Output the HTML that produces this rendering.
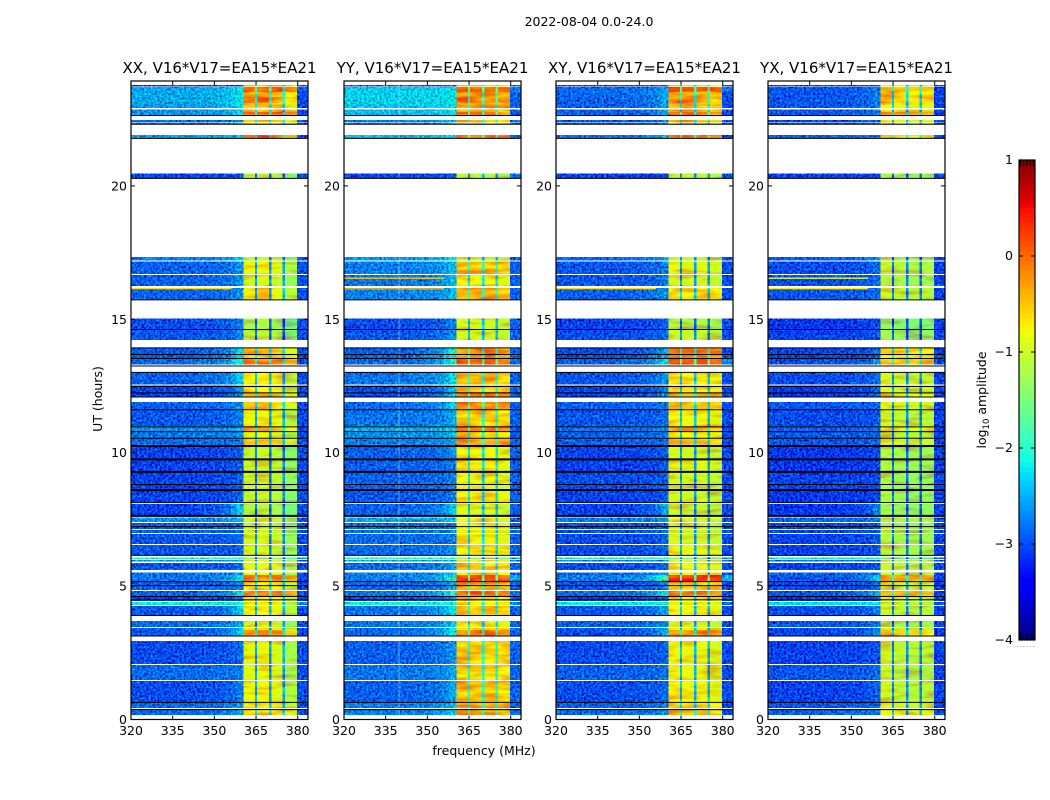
<!DOCTYPE html>
<html>
<head>
<meta charset="utf-8">
<title>2022-08-04 0.0-24.0</title>
<style>
html,body{margin:0;padding:0;background:#fff;width:1050px;height:800px;overflow:hidden}
svg{display:block}
text{font-family:"DejaVu Sans","Liberation Sans",sans-serif;fill:#000}
</style>
</head>
<body>
<svg id="chart" xmlns="http://www.w3.org/2000/svg" width="1050" height="800" viewBox="0 0 1050 800">
  <defs>
    <filter id="lowNoise" filterUnits="userSpaceOnUse" x="0" y="0" width="1050" height="800" color-interpolation-filters="sRGB">
      <feTurbulence type="fractalNoise" baseFrequency="0.45" numOctaves="2" seed="4" result="n"/>
      <feColorMatrix in="n" type="matrix" values="0 0 0 0 0.5  1 0 0 0 0  1 0 0 0 0  0 0 0 0 1" result="g"/>
      <feComposite in="SourceGraphic" in2="g" operator="arithmetic" k1="0" k2="1" k3="1.1" k4="-0.6" result="o"/>
      <feComposite in="o" in2="SourceAlpha" operator="in"/>
    </filter>
    <filter id="bandNoise" filterUnits="userSpaceOnUse" x="0" y="0" width="1050" height="800" color-interpolation-filters="sRGB">
      <feTurbulence type="fractalNoise" baseFrequency="0.04 0.2" numOctaves="2" seed="9" result="n"/>
      <feColorMatrix in="n" type="matrix" values="0 0 0 0 0.5  1 0 0 0 0  0 0 0 0 0.5  0 0 0 0 1" result="g"/>
      <feComposite in="SourceGraphic" in2="g" operator="arithmetic" k1="0" k2="1" k3="0.9" k4="-0.48" result="o"/>
      <feComposite in="o" in2="SourceAlpha" operator="in"/>
    </filter>
  </defs>
  <text x="589" y="26" text-anchor="middle" font-size="12.5">2022-08-04 0.0-24.0</text>
  <text x="484" y="755" text-anchor="middle" font-size="12.5">frequency (MHz)</text>
  <text transform="translate(102,399) rotate(-90)" text-anchor="middle" font-size="12.5">UT (hours)</text>
  <text transform="translate(986,400) rotate(-90)" text-anchor="middle" font-size="12.5">log<tspan font-size="8.5" dy="3">10</tspan><tspan dy="-3"> amplitude</tspan></text>
  <g id="panels"></g>
  <g id="colorbar"></g>
</svg>
<script>
const panelTitles = ["XX, V16*V17=EA15*EA21", "YY, V16*V17=EA15*EA21", "XY, V16*V17=EA15*EA21", "YX, V16*V17=EA15*EA21"];
const xTickLabels = [320, 335, 350, 365, 380];
const yTickLabels = [0, 5, 10, 15, 20];
const colorbarTicks = [1, 0, -1, -2, -3, -4];

const rowUpperUT = [23.78,23.71,23.52,23.33,23.11,22.86,22.77,22.47,22.37,21.91,
20.46,17.34,17.17,16.66,16.17,15.03,14.60,13.94,13.55,13.01,
12.52,12.28,11.90,11.60,11.00,10.78,10.55,10.23,9.73,9.28,
8.60,8.08,7.57,7.37,7.10,6.95,6.54,6.07,5.98,5.87,
5.51,5.42,5.15,4.82,4.63,4.40,4.25,3.69,3.43,3.35,
2.94,2.04,1.44,0.64,0.39];
const rowLowerUT = [23.73,23.52,23.33,23.11,22.92,22.77,22.66,22.40,22.32,21.80,
20.30,17.20,16.70,16.25,15.74,14.62,14.22,13.55,13.31,12.56,
12.28,12.07,11.60,11.00,10.78,10.55,10.27,9.76,9.28,8.60,
8.11,7.63,7.40,7.14,6.99,6.58,6.15,6.02,5.92,5.60,
5.42,5.15,4.85,4.63,4.44,4.29,3.88,3.47,3.35,3.13,
2.08,1.48,0.66,0.43,0.17];

const xxLow = [-3.0,-2.5,-2.5,-2.5,-2.55,-2.6,-2.6,-2.8,-2.7,-2.55,
-3.0,-2.7,-2.85,-2.85,-2.85,-2.95,-2.9,-2.9,-2.8,-2.85,
-3.0,-3.0,-2.85,-2.9,-2.6,-2.75,-2.8,-3.0,-3.0,-3.0,
-3.0,-3.0,-2.6,-2.9,-2.9,-2.9,-2.9,-1.9,-2.6,-2.9,
-2.75,-2.75,-2.85,-2.85,-3.0,-2.0,-2.9,-2.8,-2.85,-2.9,
-2.95,-2.8,-2.95,-2.8,-2.8];
const xxEdge = [-3.0,-2.2,-2.2,-2.2,-2.2,-2.3,-2.3,-2.6,-2.4,-2.4,
-2.9,-2.3,-2.6,-2.6,-2.6,-2.7,-2.7,-2.2,-2.1,-2.3,
-2.6,-2.6,-2.6,-2.7,-2.5,-2.6,-2.7,-2.85,-2.85,-2.85,
-2.8,-2.3,-2.5,-2.8,-2.8,-2.8,-2.8,-1.9,-2.6,-2.8,
-2.6,-2.2,-2.7,-2.2,-2.8,-2.0,-2.3,-2.5,-2.4,-2.3,
-2.8,-2.7,-2.7,-2.6,-2.5];
const xxBand = [-0.5,-0.05,-0.45,-0.2,-0.55,-0.55,-0.15,-0.5,-0.6,-0.2,
-1.15,-1.1,-0.85,-1.0,-0.8,-1.25,-1.15,-0.55,-0.25,-0.75,
-0.75,-0.5,-0.6,-0.85,-0.4,-0.9,-0.65,-1.1,-1.05,-1.05,
-1.1,-1.2,-1.0,-1.1,-1.1,-1.0,-1.0,-1.5,-0.9,-0.85,
-0.85,-0.2,-0.7,-0.2,-0.7,-0.9,-0.8,-1.0,-0.9,-0.3,
-0.9,-0.9,-0.85,-0.75,-0.6];

const yyLow = [-2.9,-2.3,-2.3,-2.3,-2.35,-2.4,-2.4,-2.7,-2.6,-2.4,
-3.0,-2.55,-2.7,-2.75,-2.7,-2.95,-2.9,-2.85,-2.8,-2.75,
-2.95,-2.95,-2.8,-2.75,-2.45,-2.6,-2.7,-2.85,-2.85,-2.85,
-2.9,-2.85,-2.5,-2.8,-2.8,-2.8,-2.8,-1.9,-2.5,-2.8,
-2.7,-2.7,-2.8,-2.75,-2.95,-2.0,-2.75,-2.75,-2.8,-2.8,
-2.85,-2.75,-2.85,-2.7,-2.7];
const yyEdge = [-2.9,-2.2,-2.2,-2.2,-2.2,-2.2,-2.2,-2.4,-2.3,-2.3,
-2.9,-2.2,-2.4,-2.4,-2.4,-2.7,-2.6,-2.0,-2.0,-2.2,
-2.4,-2.3,-2.3,-2.5,-2.3,-2.4,-2.5,-2.6,-2.7,-2.7,
-2.7,-2.3,-2.4,-2.7,-2.7,-2.7,-2.6,-1.9,-2.4,-2.5,
-2.4,-2.0,-2.5,-2.0,-2.6,-2.0,-2.2,-2.3,-2.2,-2.1,
-2.6,-2.5,-2.5,-2.4,-2.3];
const yyBand = [-0.5,0.0,-0.3,-0.15,-0.4,-0.4,-0.1,-0.45,-0.5,-0.1,
-1.1,-1.0,-0.45,-0.75,-0.4,-0.95,-0.95,-0.2,-0.05,-0.45,
-0.55,-0.1,-0.2,-0.55,-0.15,-0.6,-0.35,-0.75,-0.7,-0.8,
-0.7,-0.9,-0.75,-0.8,-0.85,-0.75,-0.7,-1.4,-0.7,-0.65,
-0.6,0.15,-0.4,-0.05,-0.5,-0.75,-0.55,-0.75,-0.6,-0.15,
-0.55,-0.6,-0.5,-0.4,-0.3];

const xyLow = [-3.0,-2.8,-2.8,-2.85,-2.85,-2.85,-2.85,-2.9,-2.85,-2.75,
-3.0,-2.8,-2.9,-2.9,-2.85,-3.0,-2.95,-2.95,-2.85,-2.9,
-3.0,-3.0,-2.85,-2.9,-2.75,-2.85,-2.85,-3.0,-3.0,-2.95,
-3.0,-3.0,-2.7,-2.95,-2.95,-2.95,-2.95,-1.9,-2.7,-2.95,
-2.8,-2.7,-2.9,-2.8,-3.0,-2.1,-2.9,-2.85,-2.9,-2.95,
-2.95,-2.85,-2.95,-2.85,-2.8];
const xyEdge = [-3.0,-2.5,-2.5,-2.5,-2.5,-2.5,-2.5,-2.7,-2.6,-2.5,
-3.0,-2.5,-2.7,-2.7,-2.6,-2.85,-2.8,-2.5,-2.2,-2.6,
-2.7,-2.6,-2.7,-2.8,-2.6,-2.7,-2.8,-2.85,-2.9,-2.85,
-2.9,-2.5,-2.6,-2.85,-2.85,-2.85,-2.85,-1.9,-2.6,-2.8,
-2.6,-1.8,-2.7,-2.2,-2.8,-2.1,-2.5,-2.6,-2.5,-2.4,
-2.85,-2.75,-2.8,-2.7,-2.6];
const xyBand = [-0.6,0.05,-0.35,-0.3,-0.5,-0.5,-0.1,-0.5,-0.7,-0.1,
-1.05,-1.05,-0.85,-0.95,-0.65,-1.15,-1.0,-0.15,0.1,-0.7,
-0.7,-0.35,-0.55,-0.75,-0.4,-0.75,-0.55,-0.95,-0.85,-0.95,
-0.95,-1.0,-0.85,-1.0,-1.05,-0.95,-0.8,-1.5,-0.9,-0.75,
-0.75,0.25,-0.6,-0.1,-0.7,-0.85,-0.75,-0.95,-0.85,-0.3,
-0.8,-0.8,-0.75,-0.6,-0.45];

const yxLow = [-3.0,-2.9,-2.9,-2.9,-2.9,-2.9,-2.9,-2.95,-2.9,-2.85,
-3.0,-2.85,-2.95,-2.95,-2.9,-3.05,-3.0,-3.0,-2.95,-2.95,
-3.05,-3.05,-2.9,-2.95,-2.85,-2.9,-2.9,-3.05,-3.05,-3.0,
-3.05,-3.05,-2.8,-3.0,-3.0,-3.0,-3.0,-2.1,-2.8,-3.0,
-2.85,-2.9,-2.95,-2.9,-3.05,-2.2,-2.95,-2.9,-2.95,-3.0,
-3.0,-2.9,-3.0,-2.9,-2.85];
const yxEdge = [-3.0,-2.7,-2.7,-2.7,-2.7,-2.7,-2.7,-2.8,-2.7,-2.7,
-3.0,-2.6,-2.8,-2.8,-2.8,-2.95,-2.9,-2.8,-2.6,-2.8,
-2.9,-2.8,-2.8,-2.9,-2.75,-2.8,-2.85,-2.95,-2.95,-2.95,
-3.0,-2.7,-2.7,-2.9,-2.9,-2.9,-2.9,-2.1,-2.7,-2.9,
-2.7,-2.3,-2.8,-2.5,-2.9,-2.2,-2.7,-2.7,-2.7,-2.6,
-2.9,-2.8,-2.85,-2.8,-2.7];
const yxBand = [-0.8,-0.4,-0.6,-0.6,-0.75,-0.75,-0.4,-0.8,-0.85,-0.4,
-1.2,-1.2,-1.05,-1.15,-1.0,-1.35,-1.25,-0.6,-0.45,-0.95,
-0.95,-0.7,-0.85,-1.0,-0.7,-1.05,-0.85,-1.15,-1.15,-1.2,
-1.2,-1.25,-1.1,-1.2,-1.2,-1.15,-1.1,-1.6,-1.05,-1.0,
-1.0,-0.25,-0.9,-0.4,-0.95,-1.05,-1.0,-1.15,-1.05,-0.55,
-1.0,-1.05,-1.0,-0.9,-0.8];

const lowChannelEdgesMHz = [320,328,336,344,350,353,356,358,360.4];
const lowChannelMix = [0,0,0,0.1,0.2,0.35,0.6,1];
const bandChannelEdgesMHz = [360.4,364.6,365.4,369.7,370.5,374.6,375.4,379.8];
const highChannelEdgesMHz = [379.8,383.7];
const xxSubbandOffsets = [0.05,0.1,0,-0.3];
const yySubbandOffsets = [0.05,0,0,-0.1];
const xySubbandOffsets = [0.05,0,0,-0.1];
const yxSubbandOffsets = [0.05,-0.05,-0.1,-0.1];
const subbandGapDrops = [-1.7,-1.5,-1.7,-1.7];
const highBandLevels = [-2.95,-2.85,-2.95,-3.0];

const thinFlagHours = [22.64,22.31,21.78,20.28,15.73,14.62,13.93,13.68,13.53,13.25,13.01,12.48,12.24,12.09,11.61,10.97,10.79,10.54,8.81,8.13,7.23,6.15,5.17,5.02,4.61,4.49,3.90,3.13,0.64,0.37];
const thickFlagHours = [10.25,9.75,9.28,8.60,7.63];

const streakPanels = [0,1,1,2,3,3];
const streakHours = [16.15,16.54,16.14,16.15,16.54,16.15];
const streakLevels = [-0.6,-0.5,-0.4,-0.6,-0.9,-0.7];
const rfiPanels = [1];
const rfiChannelsMHz = [339.8];

const rowLow = [xxLow, yyLow, xyLow, yxLow];
const rowEdge = [xxEdge, yyEdge, xyEdge, yxEdge];
const rowBand = [xxBand, yyBand, xyBand, yxBand];
const subbandOffsets = [xxSubbandOffsets, yySubbandOffsets, xySubbandOffsets, yxSubbandOffsets];

const NS = "http://www.w3.org/2000/svg";
const panelLeft = [131, 344, 556, 768];
const PLOT_W = 177, PLOT_TOP = 81, PLOT_BOTTOM = 719.5;
function xScale(mhz, p) { return panelLeft[p] + (mhz - 320) * PLOT_W / 63.7; }
function yScale(h) { return PLOT_BOTTOM - h * 26.68; }
function cbarY(v) { return 256 - v * 96; }
function ramp(t, pts) {
  for (let i = 1; i < pts.length; i++) {
    if (t <= pts[i][0]) {
      const a = pts[i - 1], b = pts[i];
      return a[1] + (b[1] - a[1]) * (t - a[0]) / (b[0] - a[0]);
    }
  }
  return pts[pts.length - 1][1];
}
function jet(v) {
  const t = Math.max(0, Math.min(1, (v + 4) / 5));
  const r = ramp(t, [[0,0],[0.35,0],[0.66,1],[0.89,1],[1,0.5]]);
  const g = ramp(t, [[0,0],[0.125,0],[0.375,1],[0.64,1],[0.91,0],[1,0]]);
  const b = ramp(t, [[0,0.5],[0.11,1],[0.34,1],[0.65,0],[1,0]]);
  return "rgb(" + Math.round(r * 255) + "," + Math.round(g * 255) + "," + Math.round(b * 255) + ")";
}
function svgEl(tag, parent, attrs) {
  const el = document.createElementNS(NS, tag);
  for (const k in attrs) el.setAttribute(k, attrs[k]);
  parent.appendChild(el);
  return el;
}
function drawLine(parent, x1, y1, x2, y2, width) {
  return svgEl("line", parent, { x1: x1, y1: y1, x2: x2, y2: y2, stroke: "#000", "stroke-width": width });
}

const panelsRoot = document.getElementById("panels");
panelTitles.forEach(function (title, p) {
  const left = panelLeft[p], right = left + PLOT_W;
  const g = svgEl("g", panelsRoot, {});
  
  

  const lowGroup = svgEl("g", g, { filter: "url(#lowNoise)", "shape-rendering": "crispEdges" });
  
  
  const bandGroup = svgEl("g", g, { filter: "url(#bandNoise)", "shape-rendering": "crispEdges" });
  
  

  rowUpperUT.forEach(function (upper, r) {
    const y0 = yScale(upper), y1 = yScale(rowLowerUT[r]);
    const low = rowLow[p][r], edge = rowEdge[p][r], band = rowBand[p][r];
    lowChannelMix.forEach(function (mix, c) {
      const x0 = xScale(lowChannelEdgesMHz[c], p), x1 = xScale(lowChannelEdgesMHz[c + 1], p);
      const cell = svgEl("rect", lowGroup, { x: x0, y: y0, width: x1 - x0, height: y1 - y0, fill: jet(low + (edge - low) * mix) });
      
      
    });
    const highValue = highBandLevels[p] + Math.max(0, low + 2.3) * 0.8 + Math.max(0, band + 0.1) * 1.5;
    const hx0 = xScale(highChannelEdgesMHz[0], p), hx1 = xScale(highChannelEdgesMHz[1], p);
    const highCell = svgEl("rect", lowGroup, { x: hx0, y: y0, width: hx1 - hx0, height: y1 - y0, fill: jet(highValue) });
    
    
    for (let c = 0; c < bandChannelEdgesMHz.length - 1; c++) {
      const value = c % 2 === 0 ? band + subbandOffsets[p][c / 2] : band + subbandGapDrops[p];
      const x0 = xScale(bandChannelEdgesMHz[c], p), x1 = xScale(bandChannelEdgesMHz[c + 1], p);
      const cell = svgEl("rect", bandGroup, { x: x0, y: y0, width: x1 - x0, height: y1 - y0, fill: jet(value) });
      
      
    }
  });

  streakPanels.forEach(function (sp, i) {
    if (sp !== p) return;
    const s = svgEl("rect", g, { x: xScale(320, p), y: yScale(streakHours[i]) - 0.7, width: xScale(356, p) - xScale(320, p), height: 1.4, fill: jet(streakLevels[i]) });
    
    
  });
  rfiPanels.forEach(function (rp) {
    if (rp !== p) return;
    rfiChannelsMHz.forEach(function (mhz) {
      rowUpperUT.forEach(function (upper, r) {
        const l = svgEl("line", g, { x1: xScale(mhz, p), x2: xScale(mhz, p), y1: yScale(upper), y2: yScale(rowLowerUT[r]), stroke: "#bff", "stroke-width": 1, opacity: 0.45 });
        
        
      });
    });
  });

  thinFlagHours.forEach(function (h) {
    const l = drawLine(g, left, yScale(h), right, yScale(h), 1);
    
    
  });
  thickFlagHours.forEach(function (h) {
    const l = drawLine(g, left, yScale(h), right, yScale(h), 2);
    
    
  });

  xTickLabels.forEach(function (tick) {
    const x = xScale(tick, p);
    const b = drawLine(g, x, PLOT_BOTTOM, x, PLOT_BOTTOM - 4, 1);
    
    
    const t = drawLine(g, x, PLOT_TOP, x, PLOT_TOP + 4, 1);
    
    
    const label = svgEl("text", g, { x: x, y: 735, "text-anchor": "middle", "font-size": 12.5 });
    label.textContent = String(tick);
    
    
  });
  yTickLabels.forEach(function (tick) {
    const y = yScale(tick);
    const a = drawLine(g, left, y, left + 4, y, 1);
    
    
    const b = drawLine(g, right, y, right - 4, y, 1);
    
    
    const label = svgEl("text", g, { x: left - 4, y: y + 4.5, "text-anchor": "end", "font-size": 12.5 });
    label.textContent = String(tick);
    
    
  });

  const frame = svgEl("rect", g, { x: left, y: PLOT_TOP, width: PLOT_W, height: PLOT_BOTTOM - PLOT_TOP, fill: "none", stroke: "#000", "stroke-width": 1.2 });
  
  

  const titleEl = svgEl("text", g, { x: left + PLOT_W / 2, y: 73, "text-anchor": "middle", "font-size": 15 });
  titleEl.textContent = title;
  
  
});

const cb = document.getElementById("colorbar");
const CB_LEFT = 1019, CB_RIGHT = 1035;
for (let i = 0; i < 100; i++) {
  const v = -4 + i * 0.05;
  const yTop = cbarY(v + 0.05);
  const s = svgEl("rect", cb, { x: CB_LEFT, y: yTop, width: CB_RIGHT - CB_LEFT, height: cbarY(v) - yTop, fill: jet(v + 0.025), "shape-rendering": "crispEdges" });
  
  
}
colorbarTicks.forEach(function (tick) {
  const y = cbarY(tick);
  const a = drawLine(cb, CB_LEFT, y, CB_LEFT + 4, y, 1);
  
  
  const b = drawLine(cb, CB_RIGHT, y, CB_RIGHT - 4, y, 1);
  
  
  const label = svgEl("text", cb, { x: 1013, y: y + 4, "text-anchor": "end", "font-size": 12.5 });
  label.textContent = tick < 0 ? "\u2212" + Math.abs(tick) : String(tick);
  
  
});
const topTicks = svgEl("line", cb, { x1: CB_LEFT + 1, x2: CB_RIGHT - 1, y1: 163, y2: 163, stroke: "#000", "stroke-width": 6, "stroke-dasharray": "1 2.2" });


const bottomTicks = svgEl("line", cb, { x1: CB_LEFT + 1, x2: CB_RIGHT - 1, y1: 637, y2: 637, stroke: "#000", "stroke-width": 6, "stroke-dasharray": "1 2.2" });


const dots = svgEl("line", cb, { x1: 1017, x2: 1035, y1: 646.5, y2: 646.5, stroke: "#aaa", "stroke-width": 1, "stroke-dasharray": "1 2.2" });


const cbFrame = svgEl("rect", cb, { x: CB_LEFT, y: 160, width: CB_RIGHT - CB_LEFT, height: 480, fill: "none", stroke: "#000", "stroke-width": 1.2 });


</script>
</body>
</html>
